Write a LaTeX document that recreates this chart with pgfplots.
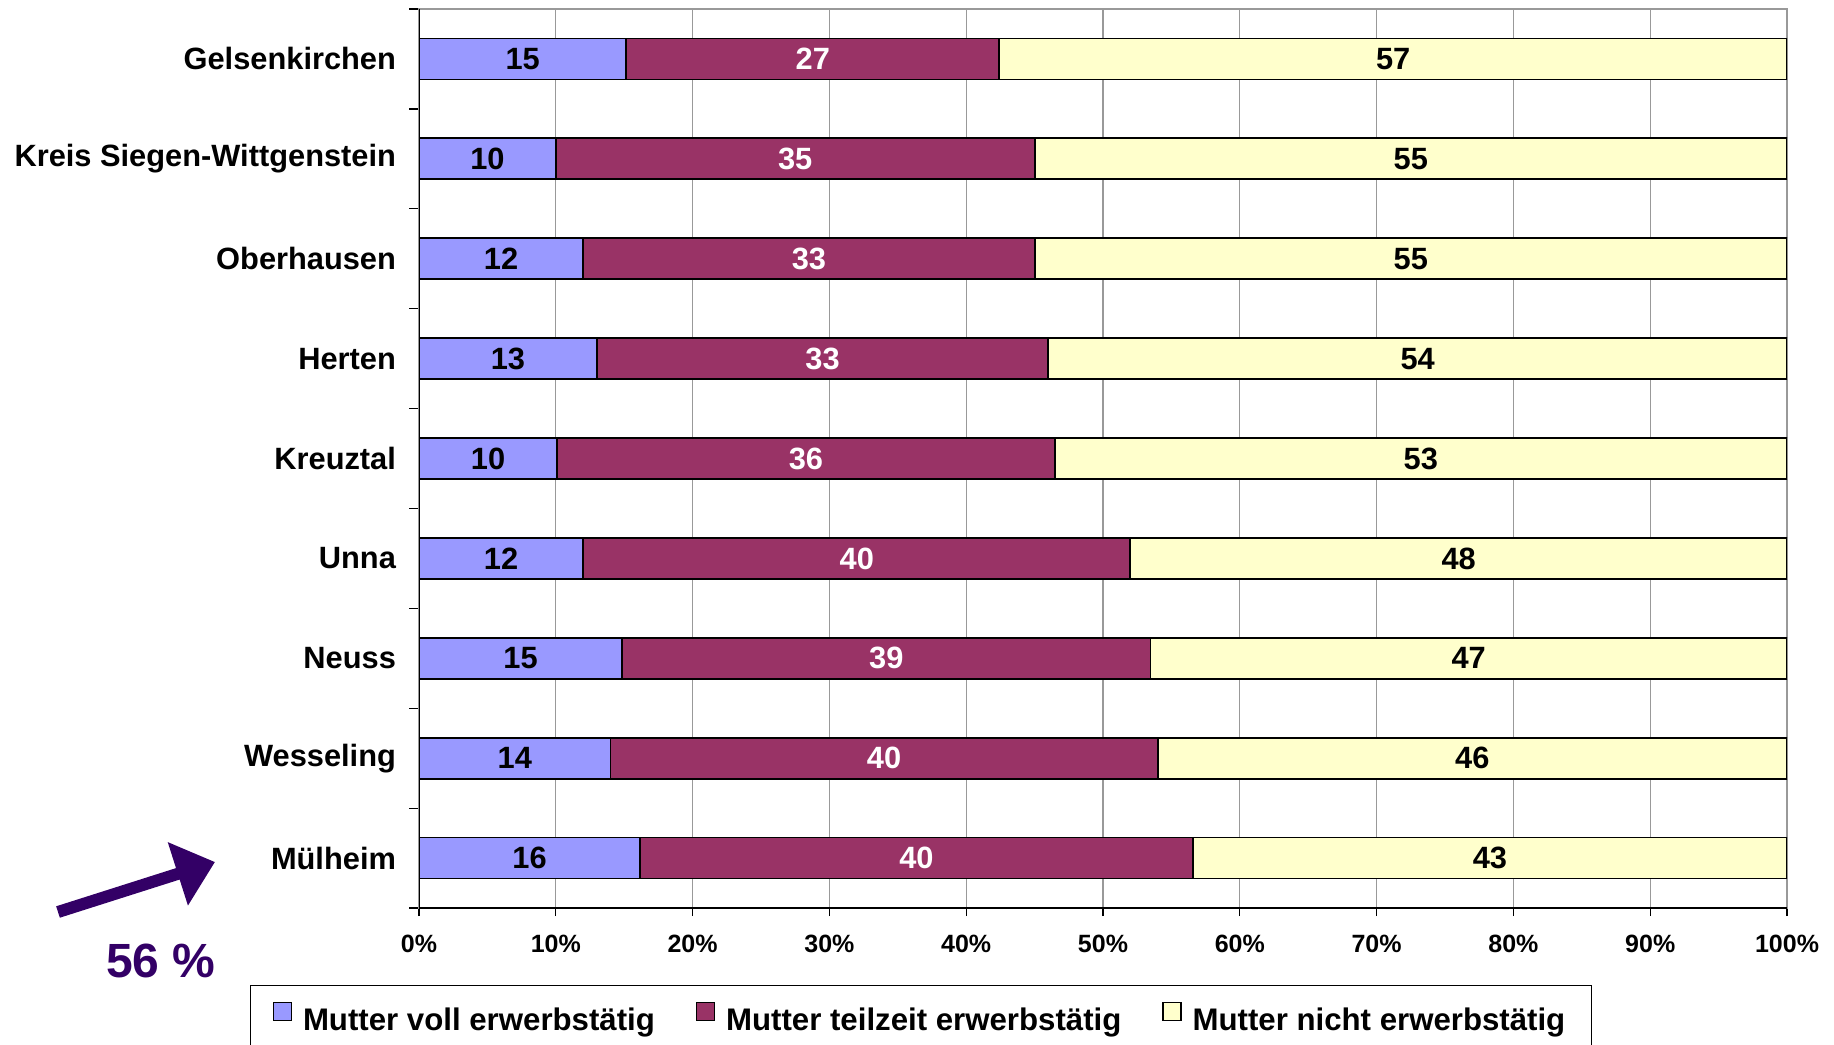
\documentclass[border=0pt]{standalone}
\usepackage{fontspec}
\setmainfont{Liberation Sans}
\usepackage{pgfplots}
\pgfplotsset{compat=1.18}
\usepackage{pgfplotstable}
\usetikzlibrary{arrows.meta}

\definecolor{voll}{HTML}{9999FF}
\definecolor{teil}{HTML}{993366}
\definecolor{nicht}{HTML}{FFFFCC}
\definecolor{pfeil}{HTML}{330066}

% Anteile in Prozent (gerundet), Balken werden auf 100 % normiert
\pgfplotstableread{
y voll teil nicht
0 15 27 57
1 10 35 55
2 12 33 55
3 13 33 54
4 10 36 53
5 12 40 48
6 15 39 47
7 14 40 46
8 16 40 43
}\data

\newcommand{\summe}{(\thisrow{voll}+\thisrow{teil}+\thisrow{nicht})}

\begin{document}
\begin{tikzpicture}[font=\fontsize{15.4}{18}\selectfont\bfseries]
\useasboundingbox (0,0) rectangle (917pt,522pt);
\begin{axis}[
    at={(209.5pt,68pt)}, anchor=south west,
    width=684pt, height=449.5pt, scale only axis,
    xmin=0, xmax=100, ymin=-0.5, ymax=8.5, y dir=reverse,
    bar width=20.5pt, bar shift=0pt,
    xtick={0,10,...,100},
    xticklabel={\pgfmathprintnumber{\tick}\%},
    xticklabel style={font=\fontsize{12.5}{15}\selectfont\bfseries, yshift=-6pt},
    /pgf/number format/assume math mode=true,
    xmajorgrids, grid style={gray!80, line width=0.6pt},
    ytick={0,...,8},
    yticklabels={Gelsenkirchen, Kreis Siegen-Wittgenstein, Oberhausen, Herten,
        Kreuztal, Unna, Neuss, Wesseling, Mülheim},
    yticklabel style={xshift=-4pt},
    minor ytick={-0.5,0.5,...,8.5},
    every major y tick/.append style={draw=none},
    tick pos=left, tick align=outside,
    major tick length=4pt, minor tick length=5pt,
    tick style={black, line width=0.6pt},
    axis line style={gray!80, line width=0.6pt},
    legend image code/.code={\draw[#1, line width=0.6pt] (0pt,0pt) rectangle (9pt,9pt);},
    legend style={at={(0.367,-0.0857)}, anchor=north, legend columns=3,
        draw=black, line width=0.6pt, inner xsep=11pt, inner ysep=8pt,
        font=\fontsize{15.6}{18}\selectfont\bfseries,
        /tikz/every odd column/.append style={column sep=3.5pt},
        /tikz/every even column/.append style={column sep=18.5pt}},
]
% Balken: von hinten nach vorne
\addplot[xbar, fill=nicht, draw=black, line width=0.9pt, forget plot]
    table[x expr={100*\summe/\summe}, y=y] {\data};
\addplot[xbar, fill=teil, draw=black, line width=0.9pt, forget plot]
    table[x expr={100*(\thisrow{voll}+\thisrow{teil})/\summe}, y=y] {\data};
\addplot[xbar, fill=voll, draw=black, line width=0.9pt, forget plot]
    table[x expr={100*\thisrow{voll}/\summe}, y=y] {\data};

% Beschriftungen in der Mitte der Segmente
\addplot[only marks, mark=none, forget plot, nodes near coords, point meta=explicit symbolic,
    every node near coord/.append style={anchor=center, text=black}]
    table[x expr={50*\thisrow{voll}/\summe}, y=y, meta=voll] {\data};
\addplot[only marks, mark=none, forget plot, nodes near coords, point meta=explicit symbolic,
    every node near coord/.append style={anchor=center, text=white}]
    table[x expr={100*(\thisrow{voll}+0.5*\thisrow{teil})/\summe}, y=y, meta=teil] {\data};
\addplot[only marks, mark=none, forget plot, nodes near coords, point meta=explicit symbolic,
    every node near coord/.append style={anchor=center, text=black}]
    table[x expr={100*(\thisrow{voll}+\thisrow{teil}+0.5*\thisrow{nicht})/\summe}, y=y, meta=nicht] {\data};

\addlegendimage{fill=voll, draw=black}
\addlegendimage{fill=teil, draw=black}
\addlegendimage{fill=nicht, draw=black}
\legend{Mutter voll erwerbstätig, Mutter teilzeit erwerbstätig, Mutter nicht erwerbstätig}

\draw[black, line width=0.9pt] (axis cs:0,-0.5) -- (axis cs:0,8.5) -- (axis cs:100,8.5);
\end{axis}
\draw[pfeil, line width=6pt, -{Triangle[length=19.5pt, width=32pt]}] (29pt,66pt) -- (107.5pt,91pt);
\node[text=pfeil, font=\fontsize{24}{28}\selectfont\bfseries] at (80.5pt,41.5pt) {56 \%};
\end{tikzpicture}
\end{document}
